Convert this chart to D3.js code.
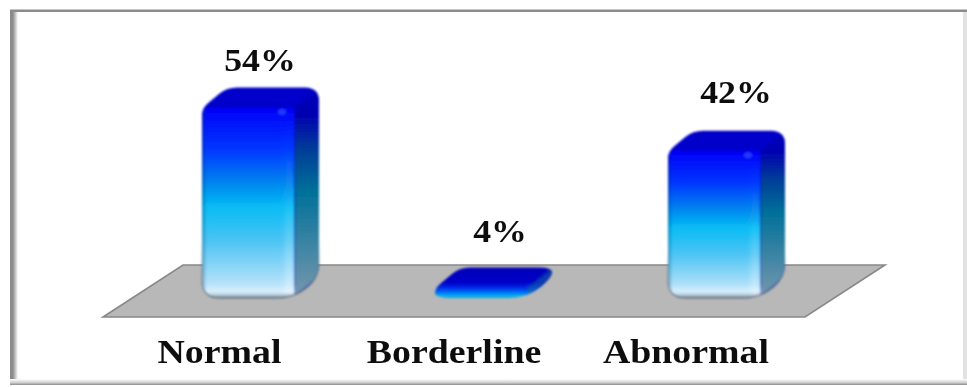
<!DOCTYPE html>
<html>
<head>
<meta charset="utf-8">
<script src="https://cdn.jsdelivr.net/npm/d3@7"></script>
<style>
html,body{margin:0;padding:0;background:#fff;overflow:hidden}
svg{display:block}
text{font-family:"Liberation Serif",serif;font-weight:700;fill:#111}
</style>
</head>
<body>
<svg id="chart" width="967" height="387"></svg>
<script>
const categories = ["Normal", "Borderline", "Abnormal"];
const percents = [54, 4, 42];
const percentLabels = ["54%", "4%", "42%"];

const svg = d3.select("#chart");
const defs = svg.append("defs");

// Vertical value scale and horizontal band scale for the bar fronts
const y = d3.scaleLinear().domain([0, 54]).range([302.4, 108]);
const x = d3.scaleBand().domain(categories).range([132, 831]);
const barWidth = 92, depthX = 25, depthY = 20.5, baseY = 298;

function linGrad(id, x1, y1, x2, y2, stops) {
  const g = defs.append("linearGradient").attr("id", id)
    .attr("x1", x1).attr("y1", y1).attr("x2", x2).attr("y2", y2);
  stops.forEach(s => g.append("stop").attr("offset", s[0]).attr("stop-color", s[1]).attr("stop-opacity", s[2] === undefined ? 1 : s[2]));
}
linGrad("frontFill", 0, 0, 0, 1, [[0, "#0000f8"], [0.22, "#0038ff"], [0.4, "#0088ee"], [0.52, "#08bcf4"], [0.7, "#4cc4f4"], [0.88, "#a0dcf8"], [1, "#dceefa"]]);
linGrad("shortFill", 0, 0, 0, 1, [[0, "#0000b8"], [0.5, "#0000c8"], [0.7, "#0040f0"], [0.88, "#08b0f4"], [1, "#0c90b8"]]);
linGrad("sideFill", 0, 0, 0, 1, [[0, "#0000c0"], [0.14, "#0000b0"], [0.3, "#003c98"], [0.5, "#007098"], [0.75, "#3c84a4"], [1, "#7898ac"]]);
linGrad("topFill", 0, 0, 0, 1, [[0, "#0000c8"], [1, "#0000ee"]]);
linGrad("leftEdge", 0, 0, 1, 0, [[0, "#003060", 0.3], [1, "#003060", 0]]);
linGrad("sheen", 0, 0, 0, 1, [[0, "#ffffff", 0], [0.45, "#ffffff", 0.05], [1, "#ffffff", 0.35]]);
linGrad("footEdge", 0, 0, 0, 1, [[0, "#ffffff", 0], [0.55, "#ffffff", 0.25], [0.8, "#506070", 0.25], [1, "#405060", 0.8]]);
linGrad("rimFade", 0, 0, 0, 1, [[0, "#4a5a6a", 0], [0.72, "#4a5a6a", 0], [1, "#4a5a6a", 0.85]]);
linGrad("frameLeft", 0, 0, 1, 0, [[0, "#909090", 1], [1, "#ffffff", 1]]);
linGrad("frameBottom", 0, 0, 0, 1, [[0, "#ffffff", 1], [0.6, "#d0d0d0", 1], [1, "#8c8c8c", 1]]);

function blurFilter(id, sd) {
  defs.append("filter").attr("id", id).attr("x", "-10%").attr("y", "-10%").attr("width", "120%").attr("height", "120%")
    .append("feGaussianBlur").attr("stdDeviation", sd);
}
blurFilter("soft", 0.8);
blurFilter("textSoft", 0.4);
blurFilter("faceBlur", 1.6);
defs.append("filter").attr("id", "sheenBlur").attr("x", "-100%").attr("width", "300%")
  .append("feGaussianBlur").attr("stdDeviation", 2.5);

// Page frame: heavy top and left rules, pale right rule, shaded foot
svg.append("rect").attr("x", 10).attr("y", 10).attr("width", 3).attr("height", 375).attr("fill", "#8c8c8c");
svg.append("rect").attr("x", 13).attr("y", 12).attr("width", 5).attr("height", 370).attr("fill", "url(#frameLeft)");
svg.append("rect").attr("x", 10).attr("y", 9.5).attr("width", 957).attr("height", 2.5).attr("fill", "#8c8c8c");
svg.append("rect").attr("x", 963).attr("y", 12).attr("width", 4).attr("height", 372).attr("fill", "#e2e2e2");
svg.append("rect").attr("x", 10).attr("y", 379).attr("width", 957).attr("height", 6).attr("fill", "url(#frameBottom)");

// Floor plane
svg.append("path").attr("d", d3.line()([[103, 317], [805, 317], [885, 265], [183, 265]]) + "Z")
  .attr("fill", "#b8b8b8").attr("stroke", "#888").attr("stroke-width", 1.6).attr("filter", "url(#textSoft)");

// Polygon outline with a separate corner radius at each vertex
function rounded(points, radii) {
  const n = points.length;
  let d = "";
  points.forEach((p, i) => {
    const a = points[(i + n - 1) % n], b = points[(i + 1) % n];
    const la = Math.hypot(a[0] - p[0], a[1] - p[1]), lb = Math.hypot(b[0] - p[0], b[1] - p[1]);
    const ra = Math.min(radii[i], la / 2), rb = Math.min(radii[i], lb / 2);
    const s = [p[0] + (a[0] - p[0]) * ra / la, p[1] + (a[1] - p[1]) * ra / la];
    const e = [p[0] + (b[0] - p[0]) * rb / lb, p[1] + (b[1] - p[1]) * rb / lb];
    d += (i ? "L" : "M") + s[0] + "," + s[1] + "Q" + p[0] + "," + p[1] + " " + e[0] + "," + e[1];
  });
  return d + "Z";
}
const cornerRadii = [8, 10, 14, 14, 18, 18];

const barGroups = svg.selectAll("g.bar").data(categories).join("g").attr("class", "bar")
  .attr("filter", "url(#soft)");

barGroups.each(function (cat, i) {
  const g = d3.select(this);
  const left = x(cat) + (x.bandwidth() - barWidth) / 2 - 0.5;
  const right = left + barWidth;
  const top = y(percents[i]);
  const h = baseY - top;
  const short = h < 30;
  const clipId = "clip" + i;
  const outline = [[left, top], [left + depthX, top - depthY], [right + depthX, top - depthY], [right + depthX, baseY - depthY], [right, baseY], [left, baseY]];
  const silhouette = rounded(outline, cornerRadii);
  defs.append("clipPath").attr("id", clipId).append("path").attr("d", silhouette);
  const c = g.append("g").attr("clip-path", "url(#" + clipId + ")");
  const sideFace = d3.line()([[right, top], [right + depthX + 4, top - depthY - 3], [right + depthX + 4, baseY - depthY - 3], [right, baseY]]) + "Z";
  if (short) {
    // Shallow bar: one ramp runs over the whole silhouette, the side only tints the right tip
    c.append("rect").attr("x", left - 2).attr("y", top - depthY - 2).attr("width", barWidth + depthX + 4).attr("height", h + depthY + 4).attr("fill", "url(#shortFill)");
    c.append("path").attr("d", sideFace).attr("fill", "#0c6c9c").attr("opacity", 0.55).attr("filter", "url(#faceBlur)");
    return;
  }
  c.append("rect").attr("x", left - 2).attr("y", top - depthY - 2).attr("width", barWidth + depthX + 4).attr("height", h + depthY + 4).attr("fill", "url(#topFill)");
  c.append("path").attr("d", sideFace).attr("fill", "url(#sideFill)").attr("filter", "url(#faceBlur)");
  c.append("rect").attr("x", left).attr("y", top).attr("width", barWidth).attr("height", h).attr("fill", "url(#frontFill)");
  c.append("rect").attr("x", left).attr("y", top).attr("width", 5).attr("height", h).attr("fill", "url(#leftEdge)");
  c.append("rect").attr("x", right - 9).attr("y", top + 4).attr("width", 8).attr("height", h - 4).attr("fill", "url(#sheen)").attr("filter", "url(#sheenBlur)");
  c.append("ellipse").attr("cx", right - 12).attr("cy", top + 4).attr("rx", 4).attr("ry", 3).attr("fill", "#3050ff").attr("opacity", 0.7);
  c.append("rect").attr("x", left).attr("y", baseY - 14).attr("width", barWidth + 2).attr("height", 14).attr("fill", "url(#footEdge)");
  // Dark rim that fades in toward the foot of the bar
  g.append("path").attr("d", silhouette).attr("fill", "none").attr("stroke", "url(#rimFade)").attr("stroke-width", 1.2);
});

// Percentage labels above each bar and category labels below the floor, stretched sideways
const valueCentres = [260, 500, 736];
const valueBaselines = [71, 242, 103];
svg.selectAll("text.value").data(percentLabels).join("text").attr("class", "value")
  .attr("transform", (d, i) => `translate(${valueCentres[i]},${valueBaselines[i]}) scale(1.12,1)`)
  .attr("text-anchor", "middle").attr("font-size", 32).attr("filter", "url(#textSoft)").text(d => d);
const catCentres = [219.5, 454, 686];
svg.selectAll("text.cat").data(categories).join("text").attr("class", "cat")
  .attr("transform", (d, i) => `translate(${catCentres[i]},363) scale(1.13,1)`)
  .attr("text-anchor", "middle").attr("font-size", 33.5).attr("filter", "url(#textSoft)").text(d => d);
</script>
</body>
</html>
